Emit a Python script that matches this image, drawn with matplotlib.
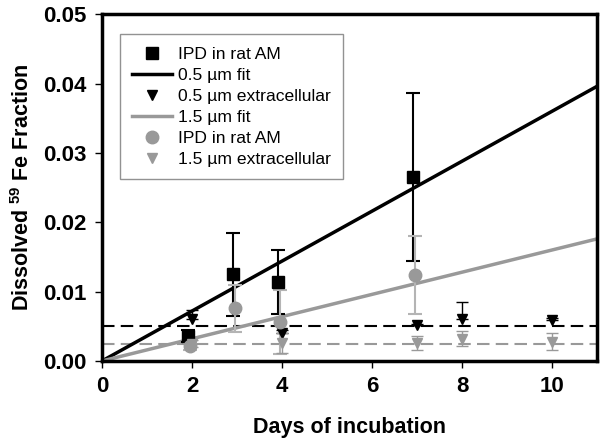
import matplotlib
matplotlib.use("Agg")
import matplotlib.pyplot as plt
import numpy as np

plt.rcParams['font.family'] = ['Liberation Sans', 'DejaVu Sans']
plt.rcParams['mathtext.fontset'] = 'custom'
plt.rcParams['mathtext.rm'] = 'Liberation Sans'

# IPD in rat AM, 0.5 um (black squares)
sq_x = [1.9, 2.9, 3.9, 6.9]
sq_y = [0.0036, 0.0125, 0.0114, 0.0265]
sq_err = [0.0008, 0.0060, 0.0046, 0.0121]

# IPD in rat AM, 1.5 um (gray circles)
ci_x = [1.96, 2.96, 3.96, 6.96]
ci_y = [0.0021, 0.0076, 0.0056, 0.0124]
ci_err = [0.0005, 0.0034, 0.0046, 0.0056]

# 0.5 um extracellular (black triangles), upper errors only
bt_x = [2, 4, 7, 8, 10]
bt_y = [0.0060, 0.0040, 0.0052, 0.0060, 0.0059]
bt_err = [0.0013, 0.0005, 0.0001, 0.0025, 0.0003]

# 1.5 um extracellular (gray triangles)
gt_x = [2, 4, 7, 8, 10]
gt_y = [0.0025, 0.0026, 0.0026, 0.0032, 0.0028]
gt_err = [0.0005, 0.0014, 0.0010, 0.0011, 0.0012]

# fits
slope_05 = 0.0036
slope_15 = 0.0016
fit_x = [0, 11]
level_05 = 0.005
level_15 = 0.0025

gray = '#999999'
lgray = '#b4b4b4'

fig = plt.figure(figsize=(6, 4.44), dpi=100)
ax = fig.add_axes([0.17, 0.187, 0.825, 0.781])

fx = np.array(fit_x, dtype=float)
ax.plot(fx, [level_05] * 2, color='black', lw=1.5, ls=(0, (6, 3)), zorder=1)
ax.plot(fx, [level_15] * 2, color=gray, lw=1.5, ls=(0, (6, 3)), zorder=1)

ax.errorbar(sq_x, sq_y, yerr=sq_err, fmt='none', ecolor='black', elinewidth=1.5, capsize=5, capthick=1.5, zorder=3)
ax.errorbar(ci_x, ci_y, yerr=ci_err, fmt='none', ecolor=lgray, elinewidth=1.5, capsize=5, capthick=1.5, zorder=3)
ax.errorbar(bt_x, bt_y, yerr=[[0] * len(bt_err), bt_err], fmt='none', ecolor='black', elinewidth=1, capsize=4, capthick=1, zorder=3)
ax.errorbar(gt_x, gt_y, yerr=gt_err, fmt='none', ecolor=gray, elinewidth=1, capsize=4, capthick=1, zorder=3)

h1, = ax.plot(sq_x, sq_y, 's', color='black', ms=8, ls='none', zorder=4, label='IPD in rat AM')
h2, = ax.plot(fx, slope_05 * fx, color='black', lw=2.5, zorder=2, label='0.5 µm fit')
h3, = ax.plot(bt_x, bt_y, 'v', color='black', ms=6.5, ls='none', zorder=4, label='0.5 µm extracellular')
h4, = ax.plot(fx, slope_15 * fx, color=gray, lw=2.5, zorder=2, label='1.5 µm fit')
h5, = ax.plot(ci_x, ci_y, 'o', color=gray, ms=9, ls='none', zorder=4, label='IPD in rat AM')
h6, = ax.plot(gt_x, gt_y, 'v', color=gray, ms=6.5, ls='none', zorder=4, label='1.5 µm extracellular')

ax.set_xlim(0, 11)
ax.set_ylim(0, 0.05)
ax.set_xticks([0, 2, 4, 6, 8, 10])
ax.set_yticks([0, 0.01, 0.02, 0.03, 0.04, 0.05])
ax.set_yticklabels(['0.00', '0.01', '0.02', '0.03', '0.04', '0.05'])
for lab in ax.get_xticklabels() + ax.get_yticklabels():
    lab.set_fontweight('bold')
    lab.set_fontsize(16)
ax.tick_params(direction='out', length=5, width=1, pad=6)
for s in ax.spines.values():
    s.set_linewidth(2.5)

ax.set_xlabel('Days of incubation', fontsize=15.5, fontweight='bold', labelpad=14)
ax.set_ylabel('Dissolved $^{\\mathregular{59}}$ Fe Fraction', fontsize=15.5, fontweight='bold', labelpad=7)

leg = ax.legend(handles=[h1, h2, h3, h4, h5, h6], loc='upper left', bbox_to_anchor=(0.036, 0.942),
                fontsize=12.6, frameon=True, fancybox=False, edgecolor='#777777',
                handlelength=2.3, handletextpad=0.3, labelspacing=0.33, borderpad=0.7,
                borderaxespad=0)
leg.get_frame().set_linewidth(1)

fig.savefig('out.png', dpi=100)
